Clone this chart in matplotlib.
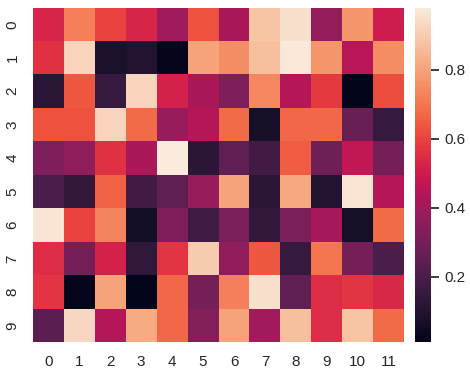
import numpy as np
import matplotlib
matplotlib.use("Agg")
import matplotlib.pyplot as plt
import seaborn as sns

sns.set_theme()
plt.rcParams['font.family'] = ['Liberation Sans', 'DejaVu Sans']

values = np.array([
    [0.53, 0.72, 0.60, 0.53, 0.40, 0.63, 0.42, 0.88, 0.95, 0.37, 0.77, 0.50],
    [0.56, 0.92, 0.08, 0.10, 0.02, 0.80, 0.75, 0.87, 0.97, 0.77, 0.45, 0.75],
    [0.12, 0.64, 0.15, 0.92, 0.52, 0.42, 0.32, 0.74, 0.44, 0.58, 0.01, 0.62],
    [0.63, 0.63, 0.92, 0.68, 0.38, 0.44, 0.68, 0.07, 0.67, 0.67, 0.27, 0.15],
    [0.32, 0.36, 0.56, 0.42, 0.98, 0.12, 0.25, 0.18, 0.65, 0.28, 0.47, 0.30],
    [0.20, 0.14, 0.66, 0.18, 0.25, 0.38, 0.80, 0.12, 0.81, 0.10, 0.96, 0.44],
    [0.96, 0.60, 0.73, 0.06, 0.32, 0.17, 0.31, 0.14, 0.31, 0.41, 0.07, 0.68],
    [0.55, 0.30, 0.52, 0.13, 0.57, 0.90, 0.36, 0.64, 0.15, 0.70, 0.30, 0.20],
    [0.57, 0.02, 0.80, 0.01, 0.67, 0.30, 0.72, 0.95, 0.25, 0.55, 0.57, 0.54],
    [0.24, 0.93, 0.44, 0.82, 0.67, 0.33, 0.80, 0.40, 0.87, 0.55, 0.88, 0.68],
])

fig = plt.figure(figsize=(4.7, 3.76), dpi=100)
ax = fig.add_axes([0.07, 0.09, 0.79, 0.89])
cax = fig.add_axes([0.882, 0.09, 0.036, 0.89])
sns.heatmap(values, ax=ax, cbar_ax=cax)
ax.tick_params(labelsize=11)
cax.tick_params(labelsize=11)
fig.savefig("out.png")
